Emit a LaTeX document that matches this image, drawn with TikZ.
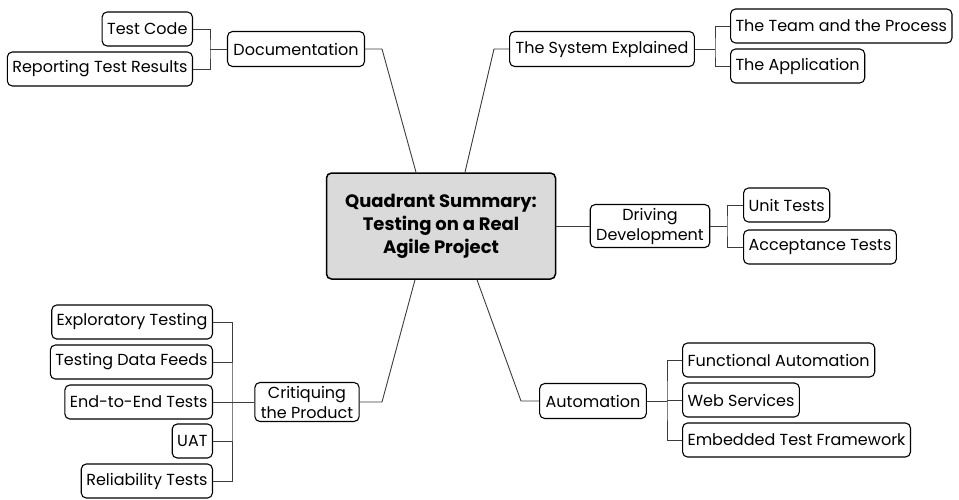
\documentclass[tikz,border=0pt]{standalone}
\usepackage{fontspec}
\setmainfont{Poppins}
\usepackage{tikz}
\usetikzlibrary{positioning}
\definecolor{rootgray}{RGB}{218,218,218}
\definecolor{linkgray}{RGB}{60,60,60}
\tikzset{x=1pt, y=-1pt, font=\fontsize{16}{20}\selectfont}
\tikzstyle{root} = [draw, fill=rootgray, rectangle, rounded corners=5pt, line width=1.5pt, minimum width=229pt, minimum height=106pt, align=center, font=\fontsize{18}{23}\selectfont\bfseries]
\tikzstyle{topic} = [draw, fill=white, rectangle, rounded corners=5pt, line width=1.1pt, minimum height=35pt, inner xsep=6pt, align=center]
\tikzstyle{leaf} = [draw, fill=white, rectangle, rounded corners=5pt, line width=1.1pt, minimum height=34pt, inner xsep=5pt, align=center]
\tikzstyle{link} = [draw, color=linkgray, line width=0.9pt]

\begin{document}
\begin{tikzpicture}
		\useasboundingbox (0,0) rectangle (959,499);

		\node [root] (qs) at (441,226) {Quadrant Summary:\\Testing on a Real\\Agile Project};

		\node [topic] (doc) at (296,49) {Documentation};
		\node [topic] (sys) at (602,49) {The System Explained};
		\node [topic] (drv) at (650,226) {Driving\\Development};
		\node [topic] (crit) at (307,402) {Critiquing\\the Product};
		\node [topic] (auto) at (593,401) {Automation};

		\node [leaf, anchor=east] (tc) at (193,29) {Test Code};
		\node [leaf, anchor=east] (rtr) at (193,69) {Reporting Test Results};

		\node [leaf, anchor=west] (team) at (730,26) {The Team and the Process};
		\node [leaf, anchor=west] (app) at (730,66) {The Application};

		\node [leaf, anchor=west] (unit) at (743,205) {Unit Tests};
		\node [leaf, anchor=west] (acc) at (743,247) {Acceptance Tests};

		\node [leaf, anchor=east] (expl) at (213,322) {Exploratory Testing};
		\node [leaf, anchor=east] (tdf) at (213,362) {Testing Data Feeds};
		\node [leaf, anchor=east] (e2e) at (213,402) {End-to-End Tests};
		\node [leaf, anchor=east] (uat) at (213,441) {UAT};
		\node [leaf, anchor=east] (rel) at (213,481) {Reliability Tests};

		\node [leaf, anchor=west] (func) at (682,360) {Functional Automation};
		\node [leaf, anchor=west] (web) at (682,400) {Web Services};
		\node [leaf, anchor=west] (emb) at (682,440) {Embedded Test Framework};

		\coordinate (doc_bend) at (382,49);
		\coordinate (sys_bend) at (494,49);
		\coordinate (crit_bend) at (382,402);
		\coordinate (auto_bend) at (521,401);

		\coordinate (doc_sp) at (210,49);
		\coordinate (sys_sp) at (715,49);
		\coordinate (drv_sp) at (727,226);
		\coordinate (crit_sp) at (232,402);
		\coordinate (auto_sp) at (667,401);

		\draw [link] (doc.east) -- (doc_bend) -- ([xshift=-25pt]qs.north);
		\draw [link] (sys.west) -- (sys_bend) -- ([xshift=24pt]qs.north);
		\draw [link] (qs.east |- drv) -- (drv.west);
		\draw [link] (crit.east) -- (crit_bend) -- ([xshift=-26pt]qs.south);
		\draw [link] (auto.west) -- (auto_bend) -- ([xshift=36pt]qs.south);

		\draw [link] (doc.west) -- (doc_sp);
		\draw [link] (tc) -| (doc_sp) |- (rtr);

		\draw [link] (sys.east) -- (sys_sp);
		\draw [link] (team) -| (sys_sp) |- (app);

		\draw [link] (drv.east) -- (drv_sp);
		\draw [link] (unit) -| (drv_sp) |- (acc);

		\draw [link] (crit.west) -- (crit_sp);
		\draw [link] (expl) -| (crit_sp) |- (rel);
		\draw [link] (tdf) -- (tdf -| crit_sp);
		\draw [link] (e2e) -- (e2e -| crit_sp);
		\draw [link] (uat) -- (uat -| crit_sp);

		\draw [link] (auto.east) -- (auto_sp);
		\draw [link] (func) -| (auto_sp) |- (emb);
		\draw [link] (web) -- (web -| auto_sp);

	\end{tikzpicture}
\end{document}
